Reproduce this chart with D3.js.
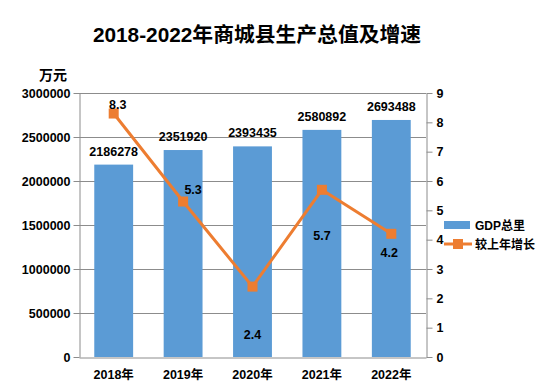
<!DOCTYPE html>
<html><head><meta charset="utf-8">
<script src="https://cdn.jsdelivr.net/npm/d3@7"></script>
<style>body{margin:0;background:#fff}svg{display:block}</style>
</head><body>
<svg id="c" width="540" height="390"></svg>
<script>
const categories = ["2018年","2019年","2020年","2021年","2022年"];
const gdpValues = [2186278, 2351920, 2393435, 2580892, 2693488];
const growthValues = [8.3, 5.3, 2.4, 5.7, 4.2];
const leftTicks = [0, 500000, 1000000, 1500000, 2000000, 2500000, 3000000];
const rightTicks = [0,1,2,3,4,5,6,7,8,9];
const growthLabelPos = ["above","aboveRight","below","below","left"];

const svg = d3.select("#c");
const FONT = "'Liberation Sans', Arial, 'Noto Sans CJK SC', sans-serif";
const m = {l:79, r:426, t:93, b:357};
const x = d3.scaleBand().domain(categories).range([m.l, m.r]).paddingInner(0.44).paddingOuter(0.22);
const yL = d3.scaleLinear().domain([0,3000000]).range([m.b, m.t]);
const yR = d3.scaleLinear().domain([0,9]).range([m.b, m.t]);
const cx = d => x(d) + x.bandwidth()/2;

// title
svg.append("text").attr("x",257).attr("y",42).attr("text-anchor","middle")
  .attr("font-family",FONT).attr("font-weight","bold").attr("font-size",20.8).attr("fill","#000")
  .text("2018-2022年商城县生产总值及增速");
svg.append("text").attr("x",53).attr("y",80).attr("text-anchor","middle")
  .attr("font-family",FONT).attr("font-weight","bold").attr("font-size",14).text("万元");

// gridlines
svg.append("g").selectAll("line").data(leftTicks.slice(1)).join("line")
  .attr("x1",m.l).attr("x2",m.r).attr("y1",d=>Math.round(yL(d))+0.5).attr("y2",d=>Math.round(yL(d))+0.5)
  .attr("stroke","#8c8c8c").attr("stroke-width",1);

// bars
svg.append("g").selectAll("rect").data(gdpValues).join("rect")
  .attr("x",(d,i)=>x(categories[i])).attr("width",x.bandwidth())
  .attr("y",d=>yL(d)).attr("height",d=>m.b-yL(d)).attr("fill","#5B9BD5");

// axes
const axL = svg.append("g").attr("transform",`translate(${m.l+0.5},0)`)
  .call(d3.axisLeft(yL).tickValues(leftTicks).tickSize(6).tickSizeOuter(0).tickFormat(d3.format("d")));
const axR = svg.append("g").attr("transform",`translate(${m.r+0.5},0)`)
  .call(d3.axisRight(yR).tickValues(rightTicks).tickSize(6).tickSizeOuter(0).tickFormat(d3.format("d")));
const axB = svg.append("g").attr("transform",`translate(0,${m.b+0.5})`)
  .call(d3.axisBottom(x).tickSize(0).tickSizeOuter(0));
[axL,axR,axB].forEach(a=>{
  a.selectAll("path,line").attr("stroke","#8c8c8c");
  a.selectAll("text").attr("font-family",FONT).attr("font-weight","bold").attr("font-size",12.5).attr("fill","#000");
});
axL.selectAll("text").attr("x",-9);
axR.selectAll("text").attr("x",10);
axB.selectAll("text").attr("y",13);

// bar labels
svg.append("g").selectAll("text").data(gdpValues).join("text")
  .attr("x",(d,i)=>cx(categories[i])).attr("y",d=>yL(d)-9).attr("text-anchor","middle")
  .attr("font-family",FONT).attr("font-weight","bold").attr("font-size",12.5).text(d=>d);

// line
const line = d3.line().x((d,i)=>cx(categories[i])).y(d=>yR(d));
svg.append("path").datum(growthValues).attr("d",line).attr("fill","none")
  .attr("stroke","#ED7D31").attr("stroke-width",3).attr("stroke-linejoin","round");
svg.append("g").selectAll("rect").data(growthValues).join("rect")
  .attr("x",(d,i)=>cx(categories[i])-5).attr("y",d=>yR(d)-5).attr("width",10).attr("height",10)
  .attr("fill","#ED7D31");

// line labels
svg.append("g").selectAll("text").data(growthValues).join("text")
  .attr("x",(d,i)=>{const p=growthLabelPos[i]; return cx(categories[i]) + (p==="above"?4:p==="aboveRight"?10:p==="left"?-2:0);})
  .attr("y",(d,i)=>{const p=growthLabelPos[i]; return yR(d) + (p==="above"?-5:p==="aboveRight"?-8:p==="below"?(i===2?52:50):23);})
  .attr("text-anchor","middle")
  .attr("font-family",FONT).attr("font-weight","bold").attr("font-size",12.5).text(d=>d.toFixed(1));

// legend
const lg = svg.append("g").attr("transform","translate(444,0)");
lg.append("rect").attr("x",0).attr("y",221).attr("width",26).attr("height",8).attr("fill","#5B9BD5");
lg.append("text").attr("x",31).attr("y",229.5).attr("font-family",FONT).attr("font-weight","bold").attr("font-size",12).text("GDP总里");
lg.append("line").attr("x1",0).attr("x2",28).attr("y1",244).attr("y2",244).attr("stroke","#ED7D31").attr("stroke-width",3);
lg.append("rect").attr("x",9).attr("y",239).attr("width",10).attr("height",10).attr("fill","#ED7D31");
lg.append("text").attr("x",31).attr("y",248.5).attr("font-family",FONT).attr("font-weight","bold").attr("font-size",12).text("较上年增长");
</script>
</body></html>
